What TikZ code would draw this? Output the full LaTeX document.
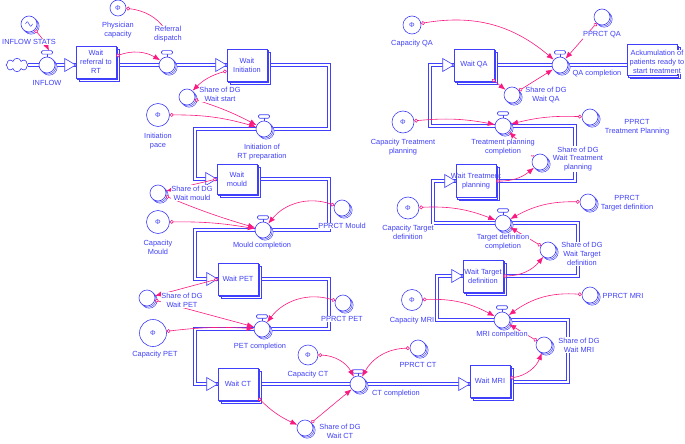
\documentclass[tikz,border=0pt]{standalone}
\usepackage{fontspec}
\setmainfont{Liberation Sans}
\usetikzlibrary{arrows.meta,shapes.symbols,calc}
\definecolor{vblue}{RGB}{64,64,250}
\definecolor{vpink}{RGB}{250,25,128}
\newcommand\vf{\fontsize{7.4}{8.8}\selectfont}
\pgfdeclarelayer{bg}
\pgfsetlayers{bg,main}
\tikzset{
  stk/.style={draw=vblue, fill=white, line width=0.6pt, minimum width=40pt, minimum height=32pt, align=center, inner sep=0.5pt, font=\vf, text=vblue},
  ring/.style={circle, draw=vblue, fill=white, line width=0.6pt, minimum size=16pt, inner sep=0pt},
  shd/.style={draw=vblue, fill=white, line width=0.5pt},
  lbl/.style={align=center, fill=white, inner sep=0.4pt, font=\vf, text=vblue},
  pipe/.style={draw=vblue, double=white, double distance=2.2pt, line width=0.6pt},
  tri/.style={draw=vblue, fill=white, line width=0.6pt, line join=miter},
  conn/.style={draw=vpink, line width=0.6pt, arrows={Circle[length=3.8pt,fill=white]-Latex[length=7pt,width=5.5pt]}},
}
\newcommand\stockat[6]{%
  \draw[shd] ({#2-#4/2+3},{#3-#5/2+3}) rectangle ++(#4,#5);
  \draw[shd] ({#2-#4/2+1.5},{#3-#5/2+1.5}) rectangle ++(#4,#5);
  \node[stk, minimum width=#4pt, minimum height=#5pt] (#1) at (#2,#3) {#6};}
\newcommand\valveat[3]{%
  \draw[shd] (#2+2.2,#3+2.2) circle (8pt);
  \draw[shd] (#2+1.1,#3+1.1) circle (8pt);
  \node[ring] (#1) at (#2,#3) {};
  \draw[vblue, line width=0.6pt] (#1.north) -- ++(0,-3);
  \draw[vblue, fill=white, line width=0.6pt, rounded corners=1.2pt] ([xshift=-5.5pt,yshift=2.5pt]#1.north) rectangle ++(11,-3.5);}
\newcommand\auxat[3]{%
  \draw[shd] (#2+2.2,#3+2.2) circle (8pt);
  \draw[shd] (#2+1.1,#3+1.1) circle (8pt);
  \node[ring] (#1) at (#2,#3) {};}
\newcommand\constat[4]{\node[ring, minimum size=#4pt, font=\fontsize{7}{7}\selectfont, text=vblue] (#1) at (#2,#3) {Φ};}
\newcommand\inarrow[1]{\draw[tri] ([xshift=-11pt,yshift=6.5pt]#1) -- (#1) -- ([xshift=-11pt,yshift=-6.5pt]#1) -- cycle;}
\begin{document}
\begin{tikzpicture}[x=1pt,y=-1pt]
\useasboundingbox (0,0) rectangle (685,444);
% ---------- stocks
\stockat{wr}{96}{62}{40}{32}{Wait\\referral to\\RT}
\stockat{wi}{247}{65}{40}{32}{Wait\\Initiation}
\stockat{wm}{237}{179}{40}{30}{Wait\\mould}
\stockat{wp}{238}{279}{40}{32}{Wait PET}
\stockat{wc}{238}{384}{40}{32}{Wait CT}
\stockat{wmri}{490}{381}{40}{32}{Wait MRI}
\stockat{wtd}{483}{276}{40}{32}{\makebox[0pt]{Wait Target}\\definition}
\stockat{wtp}{476}{181}{40}{33}{\makebox[0pt]{Wait Treatment}\\planning}
\stockat{wqa}{474}{65}{40}{32}{Wait QA}
\stockat{acc}{652}{60}{50}{31}{}
\node[cloud, draw=vblue, fill=white, line width=0.6pt, cloud puffs=8, minimum width=22pt, minimum height=13pt, aspect=1.7] (cloud) at (17,65) {};
% ---------- valves
\valveat{iv}{47}{65}
\valveat{rd}{167}{65}
\valveat{irt}{264}{129}
\valveat{mc}{263}{230}
\valveat{pc}{262}{329}
\valveat{cc}{358}{384}
\valveat{mri}{502}{320}
\valveat{tdc}{503}{223}
\valveat{tpc}{503}{126}
\valveat{qa}{560}{65}
% ---------- auxiliaries
\auxat{infs}{29}{24}
\draw[vblue, line width=0.5pt] ([xshift=-3.5pt]infs.center) .. controls +(1.5,-3) and +(-1.5,-3) .. (infs.center) .. controls +(1.5,3) and +(-1.5,3) .. ([xshift=3.5pt]infs.center);
\auxat{sdws}{187}{97}
\auxat{sdwm}{158}{193}
\auxat{ppm}{342}{208}
\auxat{sdwp}{147}{298}
\auxat{ppp}{343}{303}
\auxat{sdwc}{305}{428}
\auxat{ppct}{418}{348}
\auxat{sdwmri}{544}{345}
\auxat{ppmri}{590}{295}
\auxat{sdwtd}{548}{250}
\auxat{pptd}{588}{202}
\auxat{sdwtp}{540}{162}
\auxat{pptp}{590}{117}
\auxat{sdwqa}{512}{95}
\auxat{ppqa}{602}{17}
% ---------- constants
\constat{phys}{118}{8}{16}
\constat{inp}{158}{115}{23}
\constat{cmo}{158}{222}{23}
\constat{cpet}{153}{333}{27}
\constat{cct}{308}{355}{20}
\constat{cmri}{412}{300}{21}
\constat{ctd}{408}{208}{22}
\constat{ctp}{403}{122}{22}
\constat{cqa}{412}{25}{18}
% ---------- inflow points
\coordinate (wrin) at ([yshift=-3pt]wr.west);
\coordinate (wmriin) at ([yshift=-3pt]wmri.west);
\coordinate (accin) at ([yshift=-5pt]acc.west);
% ---------- pipes
\begin{pgfonlayer}{bg}
\draw[pipe] (cloud.east) -- (iv.center) -- (wrin);
\draw[pipe] ([yshift=-3pt]wr.east) -- (rd.center) -- (wi.west);
\draw[pipe] (wi.east) -- (329,65) -- (329,129) -- (irt.center) -- (195,129) -- (195,179) -- (wm.west);
\draw[pipe] (wm.east) -- (329,179) -- (329,230) -- (mc.center) -- (195,230) -- (195,279) -- (wp.west);
\draw[pipe] (wp.east) -- (329,279) -- (329,329) -- (pc.center) -- (195,329) -- (195,384) -- (wc.west);
\draw[pipe] (wc.east) -- (cc.center) -- (wmriin);
\draw[pipe] ([yshift=-1pt]wmri.east) -- (568,382) -- (568,320) -- (mri.center) -- (437,320) -- (437,276) -- (wtd.west);
\draw[pipe] (wtd.east) -- (578,276) -- (578,223) -- (tdc.center) -- (433,223) -- (433,181) -- (wtp.west);
\draw[pipe] (wtp.east) -- (575,181) -- (575,126) -- (tpc.center) -- (430,126) -- (430,65) -- (wqa.west);
\draw[pipe] (wqa.east) -- (qa.center) -- (accin);
\end{pgfonlayer}
% ---------- flow arrow heads
\inarrow{wrin}
\inarrow{wi.west}
\inarrow{wm.west}
\inarrow{wp.west}
\inarrow{wc.west}
\inarrow{wmriin}
\inarrow{wtd.west}
\inarrow{wtp.west}
\inarrow{wqa.west}
% ---------- connectors
\coordinate (rdlab) at (168,34);
\draw[conn] (phys) to[bend left=25] (rdlab);
\draw[conn] (infs) to[bend left=8] ([xshift=2pt,yshift=6pt]iv.north);
\draw[conn] ([yshift=6pt]wr.east) to[bend left=25] (rd);
\draw[conn] ([yshift=-6pt]wi.west) to[bend right=15] (sdws);
\draw[conn] (sdws) to[bend left=5] (irt);
\draw[conn] (inp) to[bend left=8] (irt);
\draw[conn] (wm.west) to (sdwm);
\draw[conn] (sdwm) to[bend right=3] (mc);
\draw[conn] (cmo) to[bend left=5] (mc);
\draw[conn] (ppm) to[bend right=35] (mc);
\draw[conn] (wp.west) to (sdwp);
\draw[conn] (sdwp) to (pc);
\draw[conn] (cpet) to[bend left=5] (pc);
\draw[conn] (ppp) to[bend right=35] (pc);
\draw[conn] ([yshift=-14pt]wc.east) to[bend right=10] (sdwc);
\draw[conn] (sdwc) to (cc);
\draw[conn] (cct) to[bend left=30] (cc);
\draw[conn] (ppct) to[bend right=30] (cc);
\draw[conn] ([yshift=3pt]wmri.east) to[bend right=30] (sdwmri);
\draw[conn] (sdwmri) to (mri);
\draw[conn] (cmri) to[bend left=15] (mri);
\draw[conn] (ppmri) to[bend right=20] (mri);
\draw[conn] (wtd.east) to[bend right=25] (sdwtd);
\draw[conn] (sdwtd) to (tdc);
\draw[conn] (ctd) to[bend left=12] (tdc);
\draw[conn] (pptd) to[bend right=15] (tdc);
\draw[conn] (wtp.east) to[bend right=20] (sdwtp);
\draw[conn] (sdwtp) to (tpc);
\draw[conn] (ctp) to[bend left=8] (tpc);
\draw[conn] (pptp) to[bend right=8] (tpc);
\draw[conn] ([xshift=-2pt,yshift=2pt]wqa.south east) to (sdwqa);
\draw[conn] (sdwqa) to (qa);
\draw[conn] (cqa) to[bend left=25] (qa);
\draw[conn] (ppqa) to (qa);
% ---------- labels
\node[lbl] (lrd) at (rdlab) {Referral\\dispatch};
\node[lbl] (lINF) at (47,83) {INFLOW};
\node[lbl] (lINFS) at (29,42) {INFLOW STATS};
\node[lbl] (lphys) at (118,30) {Physician\\capacity};
\node[lbl] (lsdws) at (220,94) {Share of DG\\Wait start};
\node[lbl] (linp) at (158,141) {Initiation\\pace};
\node[lbl] (lirt) at (262,152) {Initiation of\\RT preparation};
\node[lbl] (lsdwm) at (192,193) {Share of DG\\Wait mould};
\node[lbl] (lcmo) at (158,247) {Capacity\\Mould};
\node[lbl] (lppm) at (342,226) {PPRCT Mould};
\node[lbl] (lmc) at (262,246) {Mould completion};
\node[lbl] (lsdwp) at (182,300) {Share of DG\\Wait PET};
\node[lbl] (lppp) at (342,319) {PPRCT PET};
\node[lbl] (lcpet) at (155,355) {Capacity PET};
\node[lbl] (lpc) at (260,347) {PET completion};
\node[lbl] (lcct) at (308,375) {Capacity CT};
\node[lbl] (lppct) at (418,365) {PPRCT CT};
\node[lbl] (lcc) at (396,394) {CT completion};
\node[lbl] (lsdwc) at (340,431) {Share of DG\\Wait CT};
\node[lbl] (lmri) at (502,335) {MRI compeltion};
\node[lbl] (lcmri) at (412,321) {Capacity MRI};
\node[lbl] (lppmri) at (623,296) {PPRCT MRI};
\node[lbl] (lsdwmri) at (579,345) {Share of DG\\Wait MRI};
\node[lbl] (lsdwtd) at (582,254) {Share of DG\\Wait Target\\definition};
\node[lbl] (ltdc) at (503,242) {Target definition\\completion};
\node[lbl] (lctd) at (408,232) {Capacity Target\\definition};
\node[lbl] (lpptd) at (627,203) {PPRCT\\Target definition};
\node[lbl] (lsdwtp) at (578,159) {Share of DG\\Wait Treatment\\planning};
\node[lbl] (ltpc) at (503,147) {Treatment planning\\completion};
\node[lbl] (lctp) at (403,147) {Capacity Treatment\\planning};
\node[lbl] (lpptp) at (637,127) {PPRCT\\Treatment Planning};
\node[lbl] (lsdwqa) at (546,95) {Share of DG\\Wait QA};
\node[lbl] (lqa) at (597,74) {QA completion};
\node[lbl] (lppqa) at (602,35) {PPRCT QA};
\node[lbl] (lcqa) at (412,44) {Capacity QA};
\node[lbl] (accl) at (657,62) {Ackumulation of\\patients ready to\\start treatment};
\end{tikzpicture}
\end{document}
